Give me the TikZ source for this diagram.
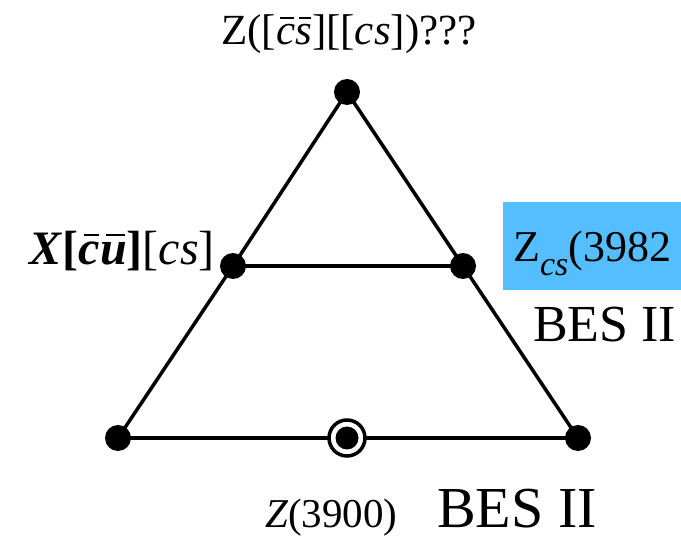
\documentclass[tikz,border=0pt]{standalone}
\usepackage{fontspec}
\setmainfont{Liberation Serif}
\newcommand\ob[1]{\setbox0=\hbox{\itshape #1}\hbox to \wd0{\rlap{\kern0.22\wd0\raise0.6em\hbox{\vrule width 0.72\wd0 height 0.05em}}\box0\hss}}
\newcommand\fs[1]{\fontsize{#1}{#1}\selectfont}
\definecolor{zcsblue}{RGB}{85,190,255}
\begin{document}
\begin{tikzpicture}[x=1pt,y=-1pt,
  dot/.style={circle,fill=black,inner sep=0pt,minimum size=26pt},
  edge/.style={line width=3.5pt},
  lbl/.style={inner sep=0pt}]
\useasboundingbox (0,0) rectangle (681,540);
\node[dot] (T) at (347,92) {};
\node[dot] (L) at (233,266) {};
\node[dot] (R) at (463,266) {};
\node[dot] (BL) at (118,438) {};
\node[dot] (BR) at (578,438) {};
\node[circle,inner sep=0pt,minimum size=38pt] (BM) at (347,438) {};
\draw[edge] (T.center) -- (L.center) -- (BL.center);
\draw[edge] (T.center) -- (R.center) -- (BR.center);
\draw[edge] (L.center) -- (R.center);
\draw[edge] (BL.center) -- (BM);
\draw[edge] (BM) -- (BR.center);
\draw[line width=3.5pt,fill=white] (BM) circle (18pt);
\fill (BM) circle (11.5pt);
% labels
\node[lbl,anchor=base,font=\fs{43}] (top) at (349,45) {Z([\ob{c}\ob{s}][[\textit{cs}])???};
\node[lbl,anchor=base east,font=\fs{48}] (xl) at (215,265) {\textbf{\textit{X}[\ob{c}\ob{u}]}[\textit{cs}]};
\fill[zcsblue] (503,202) rectangle (690,290);
\node[lbl,anchor=base west,font=\fs{44}] (zcs) at (513,262) {Z\raisebox{-0.3em}{\fs{34}\itshape cs}(3982};
\node[lbl,anchor=base west,font=\fs{52}] (bes1) at (533,342) {BES II};
\node[lbl,anchor=base west,font=\fs{41}] (z39) at (265,527) {\textit{Z}(3900)};
\node[lbl,anchor=base west,font=\fs{58}] (bes2) at (437,527) {BES II};
\end{tikzpicture}
\end{document}
